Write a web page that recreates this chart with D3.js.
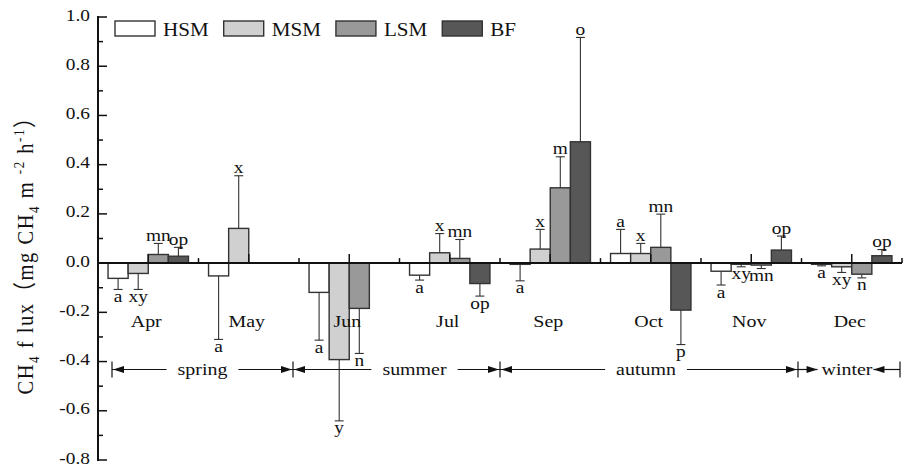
<!DOCTYPE html>
<html><head><meta charset="utf-8">
<script src="https://cdn.jsdelivr.net/npm/d3@7"></script>
<style>
body{margin:0;background:#fff}
svg{display:block}
</style>
</head><body><svg id="c" width="909" height="466" font-family="'Liberation Serif','Times New Roman','Noto Sans CJK SC',serif"></svg>
<script>
// ---------- data ----------
const months = ["Apr","May","Jun","Jul","Sep","Oct","Nov","Dec"];
const seriesNames = ["HSM","MSM","LSM","BF"];
const hsm = [-0.062,-0.052,-0.119,-0.049,-0.005,0.039,-0.033,-0.005];
const msm = [-0.042,0.141,-0.392,0.042,0.057,0.039,-0.005,-0.015];
const lsm = [0.035,null,-0.184,0.019,0.306,0.064,-0.008,-0.045];
const bf  = [0.028,null,null,-0.083,0.493,-0.191,0.053,0.030];
const hsmSD = [0.045,0.258,0.194,0.020,0.067,0.098,0.056,0.006];
const msmSD = [0.065,0.214,0.249,0.078,0.080,0.041,0.010,0.023];
const lsmSD = [0.045,null,0.183,0.077,0.126,0.135,0.014,0.015];
const bfSD  = [0.036,null,null,0.051,0.424,0.140,0.057,0.025];
const hsmLetters = ["a","a","a","a","a","a","a","a"];
const msmLetters = ["xy","x","y","x","x","x","xy","xy"];
const lsmLetters = ["mn",null,"n","mn","m","mn","mn","n"];
const bfLetters  = ["op",null,null,"op","o","p","op","op"];
const yTickValues = [1.0,0.8,0.6,0.4,0.2,0.0,-0.2,-0.4,-0.6,-0.8];
const yTickLabels = ["1.0","0.8","0.6","0.4","0.2","0.0","-0.2","-0.4","-0.6","-0.8"];
const seasons = ["spring","summer","autumn","winter"];
const seasonFirstMonth = ["Apr","Jun","Sep","Dec"];

// ---------- layout ----------
const fills = ["#ffffff","#d0d0d0","#999999","#575757"];
const valuesBySeries = [hsm,msm,lsm,bf];
const sdBySeries = [hsmSD,msmSD,lsmSD,bfSD];
const lettersBySeries = [hsmLetters,msmLetters,lsmLetters,bfLetters];
const SX = 1.14; // horizontal stretch of the reference lettering

const svg = d3.select("#c");
function txt(parent, x, y, str, size, anchor){
  return parent.append("text")
    .attr("transform",`translate(${x},${y}) scale(${SX},1)`)
    .attr("font-size",size).attr("fill","#111")
    .attr("text-anchor",anchor||"start").text(str);
}
const x0 = 98, x1 = 902;
const y = d3.scaleLinear().domain([-0.8,1.0]).range([460,17]);
const x = d3.scaleBand().domain(months).range([x0,x1]).paddingInner(0.2).paddingOuter(0.1);
const xs = d3.scaleBand().domain(seriesNames).range([0,x.bandwidth()]);
const step = x.step();

// bars
const g = svg.append("g");
seriesNames.forEach((s,si)=>{
  months.forEach((m,mi)=>{
    const v = valuesBySeries[si][mi];
    if(v===null) return;
    const bx = x(m)+xs(s), bw = xs.bandwidth();
    const sd = sdBySeries[si][mi];
    const end = v>=0 ? v+sd : v-sd;
    g.append("line").attr("x1",bx+bw/2).attr("x2",bx+bw/2)
      .attr("y1",y(v)).attr("y2",y(end)).attr("stroke","#333").attr("stroke-width",1.1);
    g.append("line").attr("x1",bx+bw/2-4.5).attr("x2",bx+bw/2+4.5)
      .attr("y1",y(end)).attr("y2",y(end)).attr("stroke","#333").attr("stroke-width",1.1);
    g.append("rect").attr("x",bx).attr("width",bw)
      .attr("y",y(Math.max(0,v))).attr("height",Math.abs(y(v)-y(0)))
      .attr("fill",fills[si]).attr("stroke","#333").attr("stroke-width",1.4);
    const L = lettersBySeries[si][mi];
    if(L){
      txt(g, bx+bw/2, v>=0 ? y(end)-2.5 : y(end)+12.5, L, 17, "middle");
    }
  });
});

// x axis (zero line) with ticks pointing up
svg.append("line").attr("x1",x0).attr("x2",x1).attr("y1",y(0)).attr("y2",y(0))
  .attr("stroke","#111").attr("stroke-width",2);
d3.range(months.length+1).forEach(i=>{
  const xx = x0+i*step;
  svg.append("line").attr("x1",xx).attr("x2",xx).attr("y1",y(0)).attr("y2",y(0)-5)
    .attr("stroke","#111").attr("stroke-width",1.5);
});
months.forEach(m=>{
  const cx = x(m)+x.bandwidth()/2;
  svg.append("line").attr("x1",cx).attr("x2",cx).attr("y1",y(0)).attr("y2",y(0)-9)
    .attr("stroke","#111").attr("stroke-width",1.5);
  txt(svg, cx-2, 327, m, 17.5, "middle");
});

// y axis
svg.append("line").attr("x1",x0).attr("x2",x0).attr("y1",y(1.0)-1).attr("y2",y(-0.8)+1)
  .attr("stroke","#111").attr("stroke-width",2);
yTickValues.forEach((v,i)=>{
  svg.append("line").attr("x1",x0).attr("x2",x0+9).attr("y1",y(v)).attr("y2",y(v))
    .attr("stroke","#111").attr("stroke-width",1.5);
  txt(svg, 90, y(v)+3.5, yTickLabels[i], 17, "end");
  if(i<yTickValues.length-1){
    const mv = (v+yTickValues[i+1])/2;
    svg.append("line").attr("x1",x0).attr("x2",x0+5).attr("y1",y(mv)).attr("y2",y(mv))
      .attr("stroke","#111").attr("stroke-width",1.5);
  }
});

// y title
const yt = svg.append("text").attr("transform",`translate(33,251) rotate(-90) scale(1,${SX})`)
  .attr("text-anchor","middle").attr("font-size",20.5).attr("fill","#111")
  .attr("textLength",287).attr("lengthAdjust","spacing");
yt.append("tspan").text("CH");
yt.append("tspan").attr("font-size",13).attr("dy",5).text("4");
yt.append("tspan").attr("dy",-5).text(" f lux\uFF08mg CH");
yt.append("tspan").attr("font-size",13).attr("dy",5).text("4");
yt.append("tspan").attr("dy",-5).text(" m ");
yt.append("tspan").attr("font-size",13).attr("dy",-8).text("-2");
yt.append("tspan").attr("dy",8).text(" h");
yt.append("tspan").attr("font-size",13).attr("dy",-8).text("-1");
yt.append("tspan").attr("dy",8).text("\uFF09");

// legend
let lx = 115;
seriesNames.forEach((s,si)=>{
  svg.append("rect").attr("x",lx).attr("y",21).attr("width",40).attr("height",15)
    .attr("fill",fills[si]).attr("stroke","#333").attr("stroke-width",1.4);
  const t = txt(svg, lx+48, 36, s, 18.5);
  lx += 48 + t.node().getComputedTextLength()*SX + 15;
});

// seasons
const sy = 369.5;
const idx = seasonFirstMonth.map(m=>months.indexOf(m));
const edgeNudge = [14,-6,0,-3.5,-2];
const textShift = [0,18,-3,-2];
const edges = idx.map((k,i)=>x0+k*step+edgeNudge[i]).concat([x1+edgeNudge[4]]);
function arrow(tipX, dir){
  svg.append("path").attr("d",`M${tipX},${sy} L${tipX-dir*11},${sy-3.5} L${tipX-dir*11},${sy+3.5} Z`)
    .attr("fill","#111");
}
function hline(a,b){
  svg.append("line").attr("x1",a).attr("x2",b).attr("y1",sy).attr("y2",sy)
    .attr("stroke","#111").attr("stroke-width",1.2);
}
edges.forEach(e=>{
  svg.append("line").attr("x1",e).attr("x2",e).attr("y1",sy-8).attr("y2",sy+8)
    .attr("stroke","#111").attr("stroke-width",1.2);
});
seasons.forEach((s,i)=>{
  const a = edges[i], b = edges[i+1];
  const cx = (a+b)/2 + textShift[i];
  const t = txt(svg, cx, sy+5, s, 17.5, "middle");
  const w = t.node().getComputedTextLength()*SX;
  if(s!=="winter"){
    hline(a, cx-w/2-11); hline(cx+w/2+11, b);
    arrow(a+1,-1); arrow(b-1,1);
  } else {
    hline(a, cx-w/2-4); hline(cx+w/2+1, b);
    arrow(cx-w/2-4,1); arrow(cx+w/2+1,-1);
  }
});
</script>
</body></html>
